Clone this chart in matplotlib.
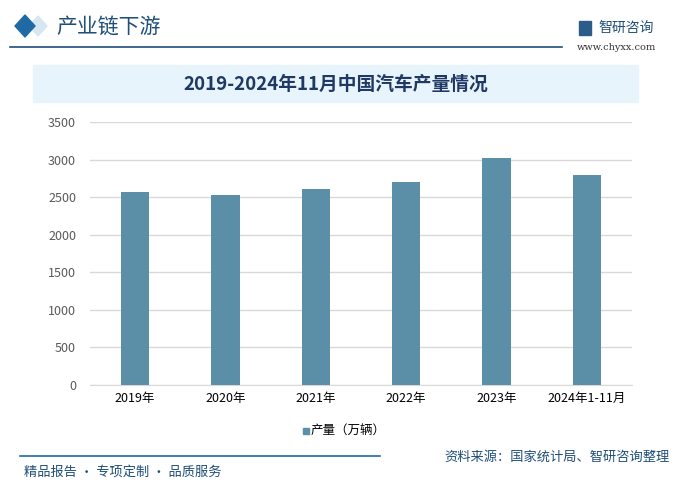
import matplotlib
matplotlib.use("Agg")
import matplotlib.pyplot as plt
from matplotlib.patches import Rectangle, Polygon

plt.rcParams['font.family'] = ['Noto Sans CJK SC', 'DejaVu Sans']

categories = ["2019年", "2020年", "2021年", "2022年", "2023年", "2024年1-11月"]
values = [2572, 2523, 2608, 2702, 3016, 2790]
yticks = [0, 500, 1000, 1500, 2000, 2500, 3000, 3500]
series_name = "产量（万辆）"
title = "2019-2024年11月中国汽车产量情况"

W, H = 685, 491
fig = plt.figure(figsize=(W / 100, H / 100), dpi=100)

def fx(x):
    return x / W

def fy(y):
    return 1 - y / H

# Header
fig.patches.append(Polygon([[fx(29), fy(26)], [fx(38), fy(16)], [fx(47), fy(26)], [fx(38), fy(36)]],
                           closed=True, transform=fig.transFigure, color="#D6E6F2"))
fig.patches.append(Polygon([[fx(15), fy(26)], [fx(25), fy(15)], [fx(35), fy(26)], [fx(25), fy(37)]],
                           closed=True, transform=fig.transFigure, color="#1F6AA5"))
fig.text(fx(56), fy(27), "产业链下游", fontsize=15, color="#1F4E79", va="center", ha="left")
fig.add_artist(plt.Line2D([fx(10), fx(562)], [fy(47), fy(47)], color="#1F4E79", lw=1.2))
fig.text(fx(598), fy(28), "智研咨询", fontsize=10, color="#1F4E79", va="center", ha="left")
fig.patches.append(Rectangle((fx(579), fy(35)), 12 / W, 14 / H, transform=fig.transFigure, color="#2E5C8A"))
fig.text(fx(616), fy(47), "www.chyxx.com", fontsize=7, color="#333333", va="center", ha="center",
         family="DejaVu Serif")

# Title banner
fig.patches.append(Rectangle((fx(33), fy(102)), (638 - 33) / W, 37 / H, transform=fig.transFigure,
                             color="#E8F4FC", zorder=0))
fig.text(fx(336), fy(84), title, fontsize=13.5, color="#1F3864", va="center", ha="center",
         fontweight="bold")

# Axes
ax = fig.add_axes([fx(90), fy(385), (632 - 90) / W, (385 - 122) / H])
x = range(len(categories))
ax.bar(x, values, width=0.31, color="#5B8FA8", zorder=3, label=series_name)
ax.set_xlim(-0.5, len(categories) - 0.5)
ax.set_ylim(0, 3500)
ax.set_yticks(yticks)
ax.set_xticks(list(x))
ax.set_xticklabels(categories)
ax.grid(axis="y", color="#D9D9D9", lw=1, zorder=0)
for s in ["top", "right", "left"]:
    ax.spines[s].set_visible(False)
ax.spines["bottom"].set_color("#D9D9D9")
ax.tick_params(axis="both", length=0)
ax.tick_params(axis="y", colors="#595959", labelsize=9, pad=10)
ax.tick_params(axis="x", colors="#000000", labelsize=9, pad=5)

# Legend
fig.patches.append(Rectangle((fx(303), fy(434)), 6 / W, 6 / H, transform=fig.transFigure, color="#5B8FA8"))
fig.text(fx(311), fy(430), series_name, fontsize=9, color="#000000", va="center", ha="left")

# Footer
fig.add_artist(plt.Line2D([fx(20), fx(380)], [fy(456), fy(456)], color="#1F6AA5", lw=1.2))
fig.text(fx(24), fy(472), "精品报告 · 专项定制 · 品质服务", fontsize=9.5, color="#1F4E79", va="center", ha="left")
fig.text(fx(670), fy(457), "资料来源：国家统计局、智研咨询整理", fontsize=9.5, color="#1F4E79", va="center", ha="right")

fig.savefig("out.png", dpi=100)
